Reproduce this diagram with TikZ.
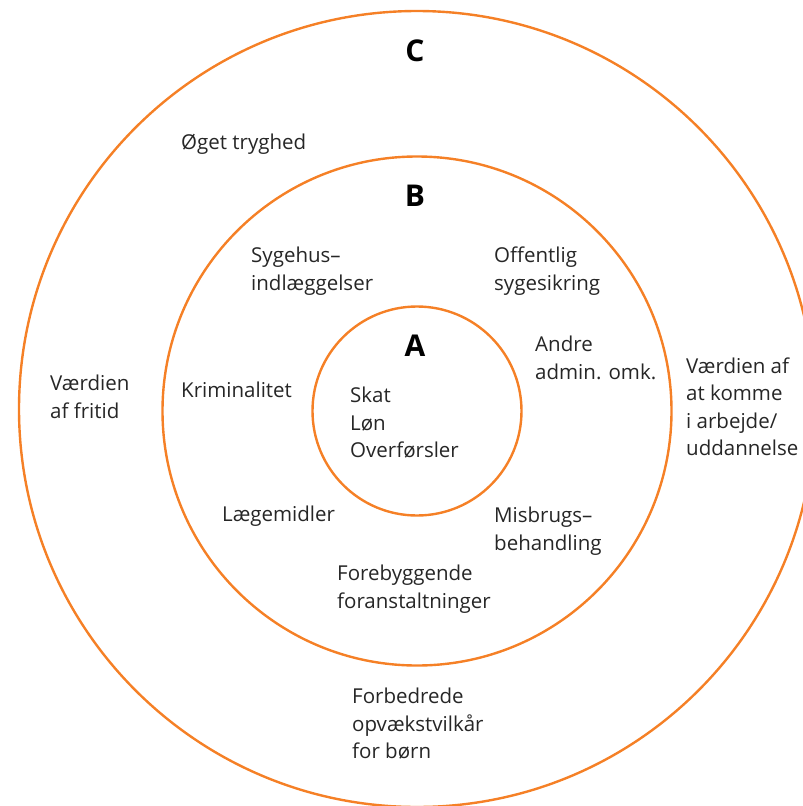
\documentclass[tikz,border=0pt]{standalone}
\usepackage{fontspec}
\setmainfont{Open Sans}
\usepackage{tikz}
\usetikzlibrary{positioning}

\definecolor{ringorange}{HTML}{F58026}

\begin{document}
\begin{tikzpicture}[x=1pt,y=-1pt,
		ring/.style={draw=ringorange,line width=2.4pt,circle,inner sep=0pt},
		txt/.style={align=left,anchor=west,inner sep=0pt,font=\fontsize{20.5}{27.5}\selectfont,text=black!85},
		level/.style={inner sep=0pt,font=\fontsize{30}{31}\selectfont\bfseries}]
			\useasboundingbox (0,0) rectangle (803,806);
			% the three rings
			\node[ring,minimum size=796pt] (OuterRing)  at (417,409) {};
			\node[ring,minimum size=509pt] (MiddleRing) at (417,411) {};
			\node[ring,minimum size=209pt] (InnerRing)  at (417,411) {};

			% ring letters
			\node[level] (LevelC) at (415,51)  {C};
			\node[level] (LevelB) at (415,196) {B};
			\node[level] (LevelA) at (415,346) {A};

			% outer ring
			\node[txt] (Tryghed)    at (181,144)   {Øget tryghed};
			\node[txt] (Fritid)     at (50,397)    {Værdien\\af fritid};
			\node[txt] (Arbejde)    at (686,407)   {Værdien af\\at komme\\i arbejde/\\uddannelse};
			\node[txt] (Opvaekst)   at (352,724)   {Forbedrede\\opvækstvilkår\\for børn};

			% middle ring
			\node[txt] (Sygehus)    at (251,271)   {Sygehus–\\indlæggelser};
			\node[txt] (Sikring)    at (494,271)   {Offentlig\\sygesikring};
			\node[txt] (Admin)      at (535,358)   {Andre\\admin. omk.};
			\node[txt] (Krimi)      at (181,390)   {Kriminalitet};
			\node[txt] (Medicin)    at (222,516)   {Lægemidler};
			\node[txt] (Misbrug)    at (494,531)   {Misbrugs–\\behandling};
			\node[txt] (Forebyg)    at (337,589)   {Forebyggende\\foranstaltninger};

			% inner ring
			\node[txt] (Skat)       at (350,423)   {Skat\\Løn\\Overførsler};
		\end{tikzpicture}
\end{document}
